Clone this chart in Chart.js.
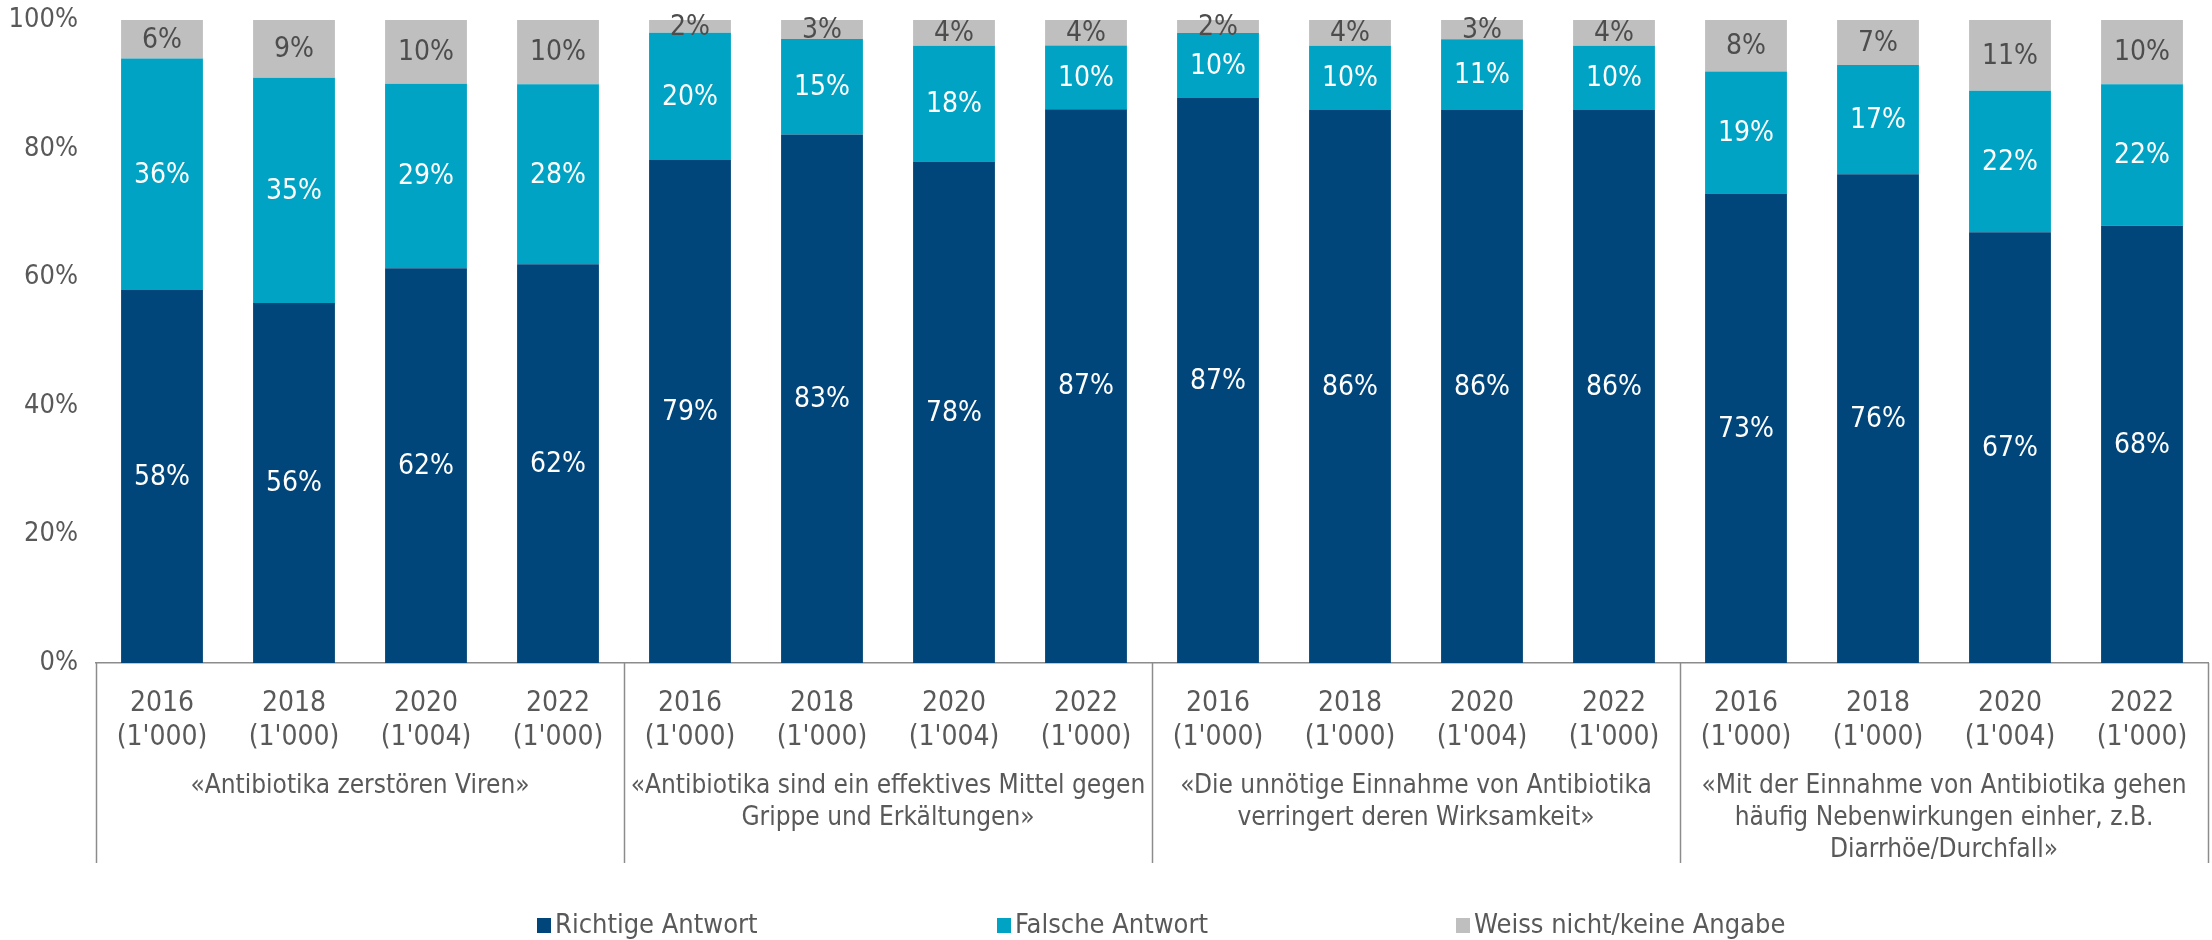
<!DOCTYPE html>
<html>
<head>
<meta charset="utf-8">
<script src="https://cdn.jsdelivr.net/npm/chart.js@4.4.1/dist/chart.umd.min.js"></script>
<style>
    html, body { margin: 0; padding: 0; background: #fff; }
    #wrap { width: 2212px; height: 940px; }
</style>
</head>
<body>
<div id="wrap"><canvas id="antibioticsChart" width="2212" height="940"></canvas></div>
<script>
const years = ['2016', '2018', '2020', '2022', '2016', '2018', '2020', '2022',
               '2016', '2018', '2020', '2022', '2016', '2018', '2020', '2022'];
const samples = ["(1'000)", "(1'000)", "(1'004)", "(1'000)", "(1'000)", "(1'000)", "(1'004)", "(1'000)",
                 "(1'000)", "(1'000)", "(1'004)", "(1'000)", "(1'000)", "(1'000)", "(1'004)", "(1'000)"];
const statements = [
    ['«Antibiotika zerstören Viren»'],
    ['«Antibiotika sind ein effektives Mittel gegen', 'Grippe und Erkältungen»'],
    ['«Die unnötige Einnahme von Antibiotika', 'verringert deren Wirksamkeit»'],
    ['«Mit der Einnahme von Antibiotika gehen', 'häufig Nebenwirkungen einher, z.B.', 'Diarrhöe/Durchfall»']
];
const richtig = [58, 56, 62, 62, 79, 83, 78, 87, 87, 86, 86, 86, 73, 76, 67, 68];
const falsch = [36, 35, 29, 28, 20, 15, 18, 10, 10, 10, 11, 10, 19, 17, 22, 22];
const weissNicht = [6, 9, 10, 10, 2, 3, 4, 4, 2, 4, 3, 4, 8, 7, 11, 10];
const yTicks = [0, 20, 40, 60, 80, 100];

const FONT = '"DejaVu Sans Condensed", "DejaVu Sans", sans-serif';
const TEXT = '#595959';
const LINE = '#8c8c8c';

// 100% stacked: scale each column to its total, labels keep the rounded values
const totals = richtig.map((v, i) => v + falsch[i] + weissNicht[i]);
const share = arr => arr.map((v, i) => v / totals[i] * 100);

const segmentLabels = {
    id: 'segmentLabels',
    afterDatasetsDraw(chart) {
        const ctx = chart.ctx;
        ctx.save();
        ctx.font = `28px ${FONT}`;
        ctx.textAlign = 'center';
        ctx.textBaseline = 'middle';
        chart.data.datasets.forEach((ds, di) => {
            chart.getDatasetMeta(di).data.forEach((bar, i) => {
                ctx.fillStyle = ds.labelColor;
                ctx.fillText(ds.shown[i] + '%', bar.x, (bar.y + bar.base) / 2 + 1);
            });
        });
        ctx.restore();
    }
};

const groupAxis = {
    id: 'groupAxis',
    afterDraw(chart) {
        const ctx = chart.ctx;
        const x = chart.scales.x;
        const area = chart.chartArea;
        const step = x.getPixelForValue(1) - x.getPixelForValue(0);
        ctx.save();
        ctx.strokeStyle = LINE;
        ctx.lineWidth = 1.5;
        for (let g = 0; g <= statements.length; g++) {
            const px = Math.round(x.getPixelForValue(g * 4) - step / 2) + 0.5;
            ctx.beginPath();
            ctx.moveTo(px, area.bottom);
            ctx.lineTo(px, 863);
            ctx.stroke();
        }
        ctx.font = `26px ${FONT}`;
        ctx.fillStyle = TEXT;
        ctx.textAlign = 'center';
        ctx.textBaseline = 'middle';
        statements.forEach((lines, g) => {
            const cx = (x.getPixelForValue(g * 4) + x.getPixelForValue(g * 4 + 3)) / 2;
            lines.forEach((line, k) => ctx.fillText(line, cx, 786 + k * 32));
        });

        // legend
        const slots = [537, 997, 1456];
        ctx.font = `27px ${FONT}`;
        chart.data.datasets.forEach((ds, di) => {
            ctx.fillStyle = ds.backgroundColor;
            ctx.fillRect(slots[di], 918, 14, 15);
            ctx.fillStyle = TEXT;
            ctx.textAlign = 'left';
            ctx.fillText(ds.label, slots[di] + 18, 926);
        });
        ctx.restore();
    }
};

new Chart(document.getElementById('antibioticsChart'), {
    type: 'bar',
    data: {
        labels: years.map((y, i) => [y, samples[i]]),
        datasets: [
            { label: 'Richtige Antwort', data: share(richtig), shown: richtig,
              backgroundColor: '#00467a', labelColor: '#ffffff' },
            { label: 'Falsche Antwort', data: share(falsch), shown: falsch,
              backgroundColor: '#00a3c3', labelColor: '#ffffff' },
            { label: 'Weiss nicht/keine Angabe', data: share(weissNicht), shown: weissNicht,
              backgroundColor: '#bfbfbf', labelColor: '#4d4d4d' }
        ]
    },
    options: {
        responsive: false,
        animation: false,
        devicePixelRatio: 1,
        categoryPercentage: 1,
        barPercentage: 0.62,
        layout: { padding: { top: 20, right: 4, bottom: 0, left: 0 } },
        plugins: {
            legend: { display: false },
            tooltip: { enabled: false }
        },
        scales: {
            x: {
                stacked: true,
                grid: { display: false, drawTicks: false },
                border: { display: true, color: LINE, width: 1.5 },
                ticks: { color: TEXT, font: { family: FONT, size: 28 }, padding: 24,
                         maxRotation: 0, autoSkip: false },
                afterFit: s => { s.height = 277; }
            },
            y: {
                stacked: true,
                min: 0,
                max: 100,
                afterBuildTicks: s => { s.ticks = yTicks.map(v => ({ value: v })); },
                grid: { display: false, drawTicks: false },
                border: { display: false },
                ticks: { color: TEXT, font: { family: FONT, size: 27 }, padding: 18,
                         callback: v => v + '%' },
                afterFit: s => { s.width = 96; s.paddingTop = 0; s.paddingBottom = 0; }
            }
        }
    },
    plugins: [segmentLabels, groupAxis]
});
</script>
</body>
</html>
